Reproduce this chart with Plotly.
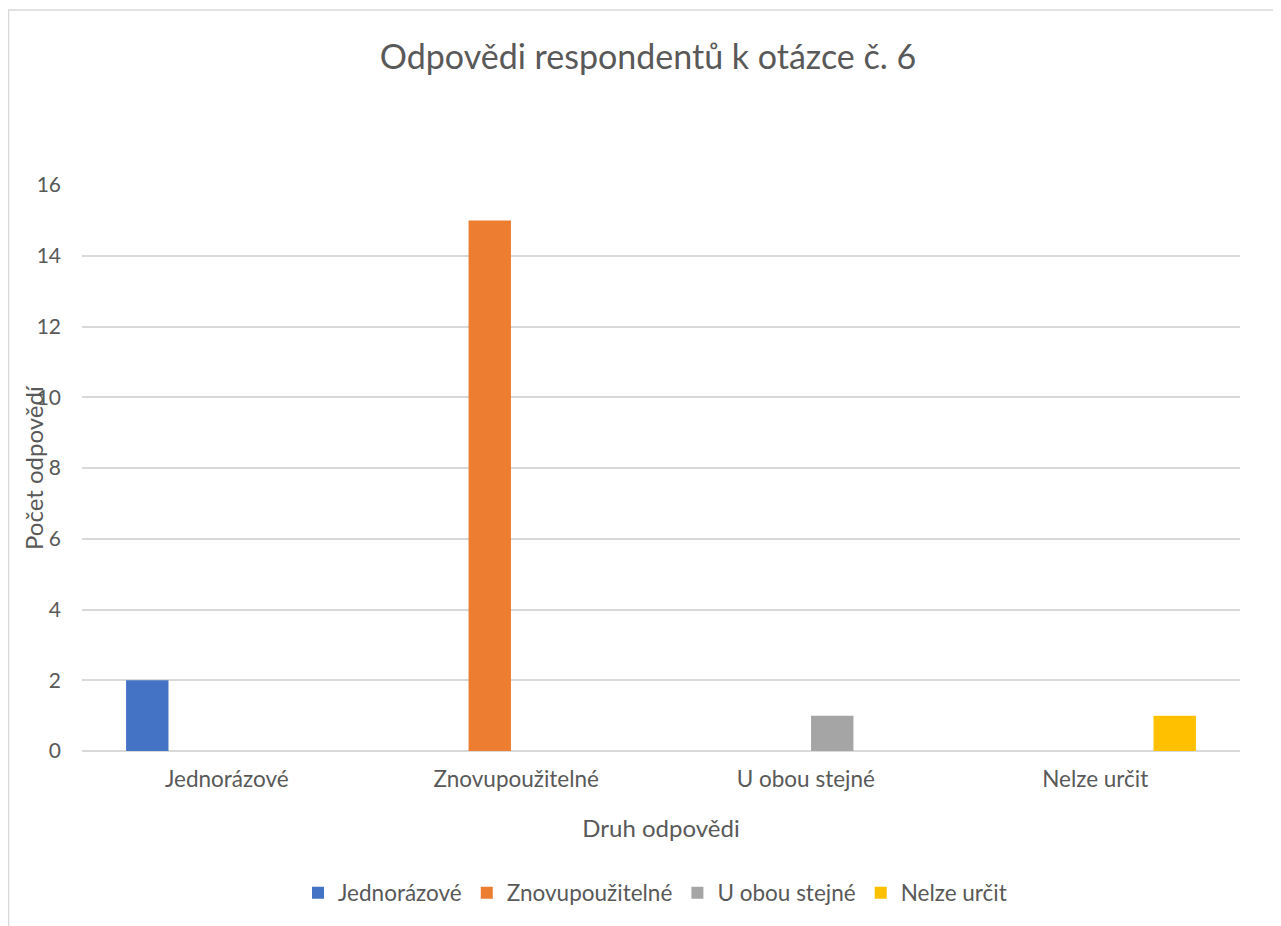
import plotly.graph_objects as go

categories = ["Jednorázové", "Znovupoužitelné", "U obou stejné", "Nelze určit"]
series_names = ["Jednorázové", "Znovupoužitelné", "U obou stejné", "Nelze určit"]
jednorazove = [2, 0, 0, 0]
znovupouzitelne = [0, 15, 0, 0]
u_obou_stejne = [0, 0, 1, 0]
nelze_urcit = [0, 0, 0, 1]
y_ticks = [0, 2, 4, 6, 8, 10, 12, 14, 16]

series_values = [jednorazove, znovupouzitelne, u_obou_stejne, nelze_urcit]
colors = ["#4472C4", "#ED7D31", "#A5A5A5", "#FFC000"]

FONT = "Lato"
TXT = "#595959"

fig = go.Figure()
for name, vals, col in zip(series_names, series_values, colors):
    fig.add_trace(go.Bar(x=categories, y=vals, name=name, marker=dict(color=col, line=dict(width=0))))

OFF = 8  # page body margin
SW, SH = 1281, 926
W, H = SW - OFF, SH - OFF
L, R, T, B = 82 - OFF, 41, 185 - OFF, 175
pw = W - L - R
ph = H - T - B

def px_x(sx):
    return (sx - OFF - L) / pw

def px_y(sy):
    return (H - B - (sy - OFF)) / ph

fig.update_layout(
    width=W, height=H,
    margin=dict(l=L, r=R, t=T, b=B, autoexpand=False),
    paper_bgcolor="white", plot_bgcolor="white",
    font=dict(family=FONT, color=TXT, size=22),
    barmode="group", bargap=0.268, bargroupgap=0.2,
    title=dict(text="Odpovědi respondentů k otázce č. 6", x=(648 - OFF) / W, xanchor="center",
               y=1 - (57 - OFF) / H, yanchor="middle", font=dict(size=34, color=TXT, family=FONT)),
    legend=dict(orientation="h", x=px_x(655), xanchor="center", y=px_y(893), yanchor="middle",
                font=dict(size=22.5, color=TXT), itemwidth=30, traceorder="normal"),
    xaxis=dict(showgrid=False, showline=False, ticks="", tickfont=dict(size=22.5, color=TXT),
               ticklabelstandoff=12,
               title=dict(text="Druh odpovědi", font=dict(size=24, color=TXT), standoff=29)),
    yaxis=dict(range=[0, 16], tickvals=y_ticks, showgrid=True, gridcolor="#D9D9D9", gridwidth=1.5,
               zeroline=True, zerolinecolor="#D9D9D9", zerolinewidth=1.5, showline=False,
               tickfont=dict(size=21, color=TXT), ticklabelstandoff=20),
    annotations=[dict(text="Počet odpovědí", textangle=-90, xref="paper", yref="paper",
                      x=px_x(33), y=px_y(468), xanchor="center", yanchor="middle",
                      showarrow=False, font=dict(size=24, color=TXT))],
    shapes=[dict(type="rect", xref="paper", yref="paper",
                 x0=px_x(8.5), x1=px_x(1300), y0=px_y(950), y1=px_y(10),
                 line=dict(color="#D9D9D9", width=1.5), fillcolor="rgba(0,0,0,0)", layer="below")],
)

fig.write_html("out.html")
